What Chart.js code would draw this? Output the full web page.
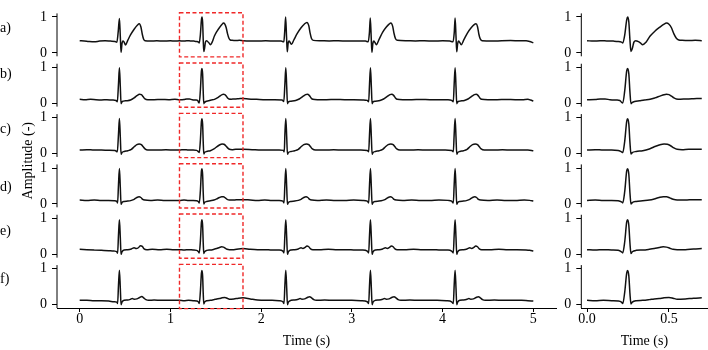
<!DOCTYPE html>
<html>
<head>
<meta charset="utf-8">
<script src="https://cdn.jsdelivr.net/npm/chart.js@4.4.1/dist/chart.umd.min.js"></script>
<style>
  html, body { margin: 0; padding: 0; background: #fff; }
  #wrap { position: relative; width: 708px; height: 350px; overflow: hidden; }
  #left { position: absolute; left: 0; top: 0; }
  #right { position: absolute; left: 555px; top: 0; }
</style>
</head>
<body>
<div id="wrap">
  <canvas id="left" width="560" height="350"></canvas>
  <canvas id="right" width="153" height="350"></canvas>
</div>
<script>
// rows top to bottom, each one is [time (s), amplitude]
const rowNames = ["a)", "b)", "c)", "d)", "e)", "f)"];
const rowOffsets = [7.0, 5.6, 4.2, 2.8, 1.4, 0];
const rowLabelLevel = [0.69, 0.8, 0.67, 0.47, 0.64, 0.71];
const leftTicks = [0, 1, 2, 3, 4, 5];
const rightTicks = [0, 0.5];
const windowStart = 1.1;
const windowEnd = 1.8;

const rowA = [
  [0.00,0.34],[0.05,0.335],[0.10,0.32],[0.16,0.31],[0.22,0.33],[0.28,0.34],[0.34,0.33],[0.39,0.32],[0.41,0.30],[0.425,0.60],[0.438,0.96],[0.448,0.45],[0.456,0.02],[0.466,0.25],[0.476,0.33],[0.49,0.30],[0.505,0.22],[0.53,0.35],[0.56,0.50],[0.60,0.66],[0.635,0.77],[0.657,0.81],[0.675,0.72],[0.69,0.52],[0.705,0.38],[0.72,0.34],[0.78,0.33],[0.85,0.34],[0.92,0.33],[1.00,0.34],[1.05,0.33],
  [1.10,0.34],[1.14,0.33],[1.18,0.34],[1.22,0.335],[1.26,0.33],[1.29,0.32],[1.31,0.30],[1.318,0.28],[1.33,0.50],[1.342,0.92],[1.348,1.00],[1.355,0.86],[1.362,0.35],[1.368,0.04],[1.376,0.12],[1.386,0.30],[1.398,0.34],[1.41,0.32],[1.425,0.28],[1.44,0.23],[1.46,0.30],[1.485,0.47],[1.515,0.61],[1.545,0.72],[1.57,0.80],[1.584,0.83],[1.60,0.80],[1.615,0.70],[1.63,0.53],[1.645,0.41],[1.66,0.36],[1.68,0.35],[1.72,0.345],[1.76,0.35],[1.80,0.34],
  [1.85,0.335],[1.95,0.33],[2.05,0.34],[2.15,0.33],[2.22,0.33],[2.25,0.31],[2.26,0.60],[2.27,1.00],[2.28,0.45],[2.288,0.03],[2.298,0.28],[2.308,0.33],[2.32,0.29],[2.335,0.24],[2.36,0.36],[2.40,0.55],[2.44,0.70],[2.475,0.80],[2.505,0.85],[2.525,0.76],[2.54,0.55],[2.555,0.40],[2.575,0.35],[2.65,0.34],[2.75,0.335],[2.85,0.34],[2.95,0.33],[3.05,0.335],[3.15,0.33],
  [3.18,0.31],[3.193,0.55],[3.203,0.97],[3.213,0.45],[3.221,0.02],[3.231,0.26],[3.241,0.33],[3.255,0.29],[3.27,0.23],[3.30,0.38],[3.34,0.58],[3.38,0.72],[3.41,0.80],[3.43,0.83],[3.45,0.74],[3.465,0.54],[3.48,0.40],[3.50,0.35],[3.60,0.34],[3.70,0.335],[3.80,0.34],[3.90,0.33],[4.00,0.34],[4.08,0.33],
  [4.115,0.31],[4.128,0.55],[4.138,0.97],[4.148,0.45],[4.156,0.03],[4.166,0.26],[4.176,0.33],[4.19,0.29],[4.205,0.23],[4.235,0.37],[4.275,0.56],[4.315,0.70],[4.345,0.78],[4.368,0.81],[4.385,0.73],[4.40,0.52],[4.415,0.39],[4.435,0.34],[4.55,0.33],[4.65,0.34],[4.75,0.345],[4.85,0.34],[4.92,0.34],[4.96,0.32],[5.00,0.28]
];

const rowB = [
  [0.00,0.11],[0.06,0.10],[0.12,0.11],[0.18,0.10],[0.24,0.095],[0.30,0.10],[0.36,0.09],[0.40,0.08],[0.415,0.04],[0.428,0.55],[0.438,0.99],[0.448,0.45],[0.456,-0.01],[0.466,0.04],[0.48,0.06],[0.52,0.07],[0.56,0.09],[0.60,0.15],[0.63,0.21],[0.66,0.25],[0.68,0.24],[0.70,0.18],[0.72,0.12],[0.75,0.10],[0.82,0.10],[0.90,0.105],[0.98,0.10],[1.05,0.11],
  [1.10,0.10],[1.15,0.105],[1.18,0.12],[1.21,0.12],[1.24,0.10],[1.28,0.09],[1.30,0.08],[1.31,0.03],[1.318,0.01],[1.33,0.35],[1.342,0.90],[1.348,0.97],[1.355,0.82],[1.362,0.30],[1.368,-0.01],[1.375,0.02],[1.39,0.05],[1.42,0.07],[1.45,0.09],[1.485,0.11],[1.515,0.15],[1.545,0.20],[1.57,0.24],[1.585,0.25],[1.60,0.24],[1.615,0.20],[1.63,0.15],[1.645,0.12],[1.67,0.115],[1.70,0.12],[1.74,0.125],[1.77,0.13],[1.80,0.13],
  [1.86,0.12],[1.95,0.11],[2.05,0.10],[2.15,0.10],[2.23,0.09],[2.25,0.05],[2.262,0.55],[2.272,0.99],[2.282,0.45],[2.29,-0.01],[2.30,0.04],[2.33,0.06],[2.38,0.08],[2.42,0.12],[2.46,0.19],[2.49,0.24],[2.51,0.25],[2.53,0.22],[2.55,0.15],[2.57,0.11],[2.62,0.10],[2.72,0.10],[2.82,0.105],[2.92,0.10],[3.02,0.10],[3.12,0.095],
  [3.17,0.08],[3.185,0.04],[3.195,0.55],[3.205,0.99],[3.215,0.45],[3.223,-0.01],[3.233,0.04],[3.26,0.06],[3.31,0.08],[3.35,0.12],[3.39,0.19],[3.42,0.24],[3.44,0.25],[3.46,0.22],[3.48,0.15],[3.50,0.11],[3.56,0.10],[3.66,0.10],[3.76,0.105],[3.86,0.10],[3.96,0.10],[4.06,0.10],
  [4.10,0.08],[4.118,0.04],[4.128,0.55],[4.138,0.99],[4.148,0.45],[4.156,-0.01],[4.166,0.04],[4.19,0.06],[4.24,0.08],[4.28,0.12],[4.32,0.19],[4.35,0.24],[4.37,0.25],[4.39,0.22],[4.41,0.15],[4.43,0.11],[4.50,0.10],[4.60,0.10],[4.70,0.105],[4.80,0.10],[4.88,0.10],[4.94,0.11],[4.97,0.09],[5.00,0.06]
];

const rowC = [
  [0.00,0.10],[0.08,0.11],[0.16,0.10],[0.24,0.10],[0.32,0.095],[0.39,0.09],[0.415,0.05],[0.428,0.55],[0.438,0.98],[0.448,0.45],[0.456,-0.02],[0.466,0.03],[0.49,0.06],[0.53,0.08],[0.57,0.12],[0.60,0.19],[0.63,0.25],[0.655,0.27],[0.68,0.25],[0.70,0.19],[0.72,0.13],[0.75,0.10],[0.85,0.10],[0.95,0.105],[1.05,0.10],
  [1.10,0.10],[1.15,0.11],[1.20,0.10],[1.25,0.10],[1.29,0.09],[1.31,0.05],[1.318,0.03],[1.33,0.35],[1.342,0.90],[1.348,0.97],[1.355,0.82],[1.362,0.30],[1.368,-0.01],[1.376,0.03],[1.40,0.06],[1.44,0.08],[1.48,0.13],[1.51,0.19],[1.54,0.24],[1.57,0.27],[1.59,0.26],[1.61,0.22],[1.63,0.16],[1.65,0.12],[1.68,0.11],[1.72,0.12],[1.76,0.12],[1.80,0.12],
  [1.90,0.11],[2.00,0.10],[2.10,0.10],[2.20,0.10],[2.245,0.09],[2.255,0.05],[2.262,0.55],[2.272,0.98],[2.282,0.45],[2.29,-0.02],[2.30,0.03],[2.33,0.06],[2.37,0.08],[2.41,0.12],[2.44,0.19],[2.47,0.25],[2.50,0.27],[2.525,0.25],[2.545,0.19],[2.565,0.13],[2.60,0.10],[2.70,0.10],[2.80,0.105],[2.90,0.10],[3.00,0.10],[3.10,0.10],
  [3.17,0.09],[3.185,0.05],[3.195,0.55],[3.205,0.98],[3.215,0.45],[3.223,-0.02],[3.233,0.03],[3.26,0.06],[3.30,0.08],[3.34,0.12],[3.37,0.19],[3.40,0.25],[3.43,0.27],[3.455,0.25],[3.475,0.19],[3.495,0.13],[3.53,0.10],[3.63,0.10],[3.73,0.105],[3.83,0.10],[3.93,0.10],[4.03,0.10],
  [4.10,0.09],[4.118,0.05],[4.128,0.55],[4.138,0.98],[4.148,0.45],[4.156,-0.02],[4.166,0.03],[4.19,0.06],[4.23,0.08],[4.27,0.12],[4.30,0.19],[4.33,0.25],[4.36,0.27],[4.385,0.25],[4.405,0.19],[4.425,0.13],[4.46,0.10],[4.56,0.10],[4.66,0.105],[4.76,0.10],[4.86,0.10],[4.94,0.10],[5.00,0.08]
];

const rowD = [
  [0.00,0.11],[0.08,0.10],[0.16,0.11],[0.24,0.10],[0.32,0.10],[0.38,0.09],[0.41,0.07],[0.418,0.03],[0.428,0.55],[0.438,0.99],[0.448,0.45],[0.456,-0.01],[0.466,0.04],[0.49,0.07],[0.53,0.08],[0.57,0.10],[0.60,0.13],[0.63,0.18],[0.655,0.20],[0.675,0.18],[0.695,0.13],[0.72,0.11],[0.78,0.10],[0.86,0.11],[0.94,0.10],[1.02,0.10],
  [1.10,0.10],[1.15,0.11],[1.20,0.10],[1.25,0.10],[1.29,0.09],[1.31,0.06],[1.318,0.03],[1.33,0.35],[1.342,0.92],[1.348,0.98],[1.355,0.82],[1.362,0.30],[1.368,0.00],[1.376,0.04],[1.40,0.07],[1.44,0.09],[1.48,0.11],[1.51,0.14],[1.54,0.18],[1.565,0.20],[1.585,0.20],[1.605,0.17],[1.625,0.13],[1.65,0.11],[1.70,0.11],[1.75,0.12],[1.80,0.12],
  [1.88,0.11],[1.96,0.10],[2.04,0.11],[2.12,0.10],[2.20,0.10],[2.24,0.08],[2.252,0.03],[2.262,0.55],[2.272,0.99],[2.282,0.45],[2.29,-0.01],[2.30,0.04],[2.33,0.07],[2.37,0.08],[2.41,0.10],[2.44,0.13],[2.47,0.18],[2.495,0.20],[2.515,0.18],[2.535,0.13],[2.56,0.11],[2.62,0.10],[2.72,0.11],[2.82,0.10],[2.92,0.10],[3.02,0.11],[3.12,0.10],
  [3.17,0.08],[3.185,0.03],[3.195,0.55],[3.205,0.99],[3.215,0.45],[3.223,-0.01],[3.233,0.04],[3.26,0.07],[3.30,0.08],[3.34,0.10],[3.37,0.13],[3.40,0.18],[3.425,0.20],[3.445,0.18],[3.465,0.13],[3.49,0.11],[3.56,0.10],[3.66,0.11],[3.76,0.10],[3.86,0.10],[3.96,0.11],[4.06,0.10],
  [4.10,0.08],[4.118,0.03],[4.128,0.55],[4.138,0.99],[4.148,0.45],[4.156,-0.01],[4.166,0.04],[4.19,0.07],[4.23,0.08],[4.27,0.10],[4.30,0.13],[4.33,0.18],[4.355,0.20],[4.375,0.18],[4.395,0.13],[4.42,0.11],[4.50,0.10],[4.60,0.11],[4.70,0.10],[4.80,0.10],[4.90,0.11],[4.96,0.10],[5.00,0.08]
];

const rowE = [
  [0.00,0.14],[0.08,0.13],[0.16,0.12],[0.24,0.11],[0.32,0.10],[0.38,0.09],[0.41,0.07],[0.418,0.03],[0.428,0.55],[0.438,0.96],[0.448,0.45],[0.456,0.00],[0.466,0.07],[0.49,0.12],[0.53,0.13],[0.57,0.15],[0.60,0.18],[0.625,0.16],[0.65,0.19],[0.67,0.24],[0.69,0.22],[0.71,0.15],[0.74,0.13],[0.80,0.14],[0.88,0.13],[0.96,0.14],[1.04,0.13],
  [1.10,0.13],[1.15,0.12],[1.20,0.13],[1.25,0.12],[1.29,0.11],[1.31,0.07],[1.318,0.04],[1.33,0.35],[1.342,0.90],[1.348,0.96],[1.355,0.80],[1.362,0.30],[1.368,0.02],[1.376,0.07],[1.40,0.11],[1.44,0.12],[1.48,0.14],[1.51,0.16],[1.54,0.19],[1.565,0.21],[1.585,0.20],[1.605,0.17],[1.625,0.14],[1.65,0.13],[1.70,0.13],[1.75,0.15],[1.80,0.16],
  [1.88,0.14],[1.96,0.13],[2.04,0.13],[2.12,0.12],[2.20,0.12],[2.24,0.09],[2.252,0.04],[2.262,0.55],[2.272,0.96],[2.282,0.45],[2.29,0.00],[2.30,0.07],[2.33,0.12],[2.37,0.13],[2.41,0.15],[2.44,0.18],[2.46,0.16],[2.485,0.19],[2.505,0.23],[2.525,0.21],[2.545,0.15],[2.57,0.13],[2.64,0.13],[2.74,0.14],[2.84,0.13],[2.94,0.13],[3.04,0.12],[3.12,0.12],
  [3.17,0.09],[3.185,0.04],[3.195,0.55],[3.205,0.96],[3.215,0.45],[3.223,0.00],[3.233,0.07],[3.26,0.12],[3.30,0.13],[3.34,0.15],[3.37,0.18],[3.39,0.16],[3.415,0.19],[3.435,0.23],[3.455,0.21],[3.475,0.15],[3.50,0.13],[3.58,0.13],[3.68,0.14],[3.78,0.13],[3.88,0.13],[3.98,0.12],[4.06,0.12],
  [4.10,0.09],[4.118,0.04],[4.128,0.55],[4.138,0.96],[4.148,0.45],[4.156,0.00],[4.166,0.07],[4.19,0.12],[4.23,0.13],[4.27,0.15],[4.30,0.18],[4.32,0.16],[4.345,0.19],[4.365,0.23],[4.385,0.21],[4.405,0.15],[4.43,0.13],[4.52,0.13],[4.62,0.14],[4.72,0.13],[4.82,0.13],[4.92,0.12],[4.96,0.11],[5.00,0.09]
];

const rowF = [
  [0.00,0.12],[0.08,0.12],[0.16,0.11],[0.24,0.11],[0.32,0.10],[0.38,0.08],[0.41,0.07],[0.418,0.03],[0.428,0.55],[0.438,0.96],[0.448,0.45],[0.456,0.00],[0.466,0.07],[0.49,0.12],[0.53,0.13],[0.56,0.15],[0.58,0.17],[0.60,0.15],[0.63,0.16],[0.66,0.20],[0.685,0.23],[0.705,0.19],[0.73,0.14],[0.76,0.12],[0.82,0.13],[0.90,0.12],[0.98,0.12],[1.04,0.12],
  [1.10,0.12],[1.15,0.11],[1.20,0.12],[1.25,0.11],[1.29,0.10],[1.31,0.07],[1.318,0.03],[1.33,0.35],[1.342,0.88],[1.348,0.95],[1.355,0.80],[1.362,0.30],[1.368,0.02],[1.376,0.07],[1.40,0.11],[1.44,0.12],[1.48,0.14],[1.51,0.16],[1.54,0.17],[1.57,0.19],[1.60,0.20],[1.625,0.18],[1.65,0.15],[1.70,0.16],[1.75,0.18],[1.80,0.19],
  [1.88,0.16],[1.96,0.13],[2.04,0.12],[2.12,0.12],[2.20,0.11],[2.24,0.08],[2.252,0.03],[2.262,0.55],[2.272,0.96],[2.282,0.45],[2.29,0.00],[2.30,0.07],[2.33,0.12],[2.37,0.13],[2.41,0.15],[2.43,0.17],[2.45,0.15],[2.48,0.16],[2.51,0.20],[2.535,0.22],[2.555,0.19],[2.58,0.14],[2.61,0.12],[2.70,0.13],[2.80,0.12],[2.90,0.12],[3.00,0.12],[3.10,0.11],
  [3.17,0.08],[3.185,0.03],[3.195,0.55],[3.205,0.96],[3.215,0.45],[3.223,0.00],[3.233,0.07],[3.26,0.12],[3.30,0.13],[3.34,0.15],[3.36,0.17],[3.38,0.15],[3.41,0.16],[3.44,0.20],[3.465,0.22],[3.485,0.19],[3.51,0.14],[3.54,0.12],[3.64,0.13],[3.74,0.12],[3.84,0.12],[3.94,0.12],[4.04,0.11],
  [4.10,0.08],[4.118,0.03],[4.128,0.55],[4.138,0.96],[4.148,0.45],[4.156,0.00],[4.166,0.07],[4.19,0.12],[4.23,0.13],[4.27,0.15],[4.29,0.17],[4.31,0.15],[4.34,0.16],[4.37,0.20],[4.395,0.22],[4.415,0.19],[4.44,0.14],[4.47,0.12],[4.57,0.13],[4.67,0.12],[4.77,0.12],[4.87,0.12],[4.94,0.11],[5.00,0.10]
];

const signals = [rowA, rowB, rowC, rowD, rowE, rowF];

Chart.defaults.font.family = "'Liberation Serif', 'Times New Roman', serif";
Chart.defaults.font.size = 14;
Chart.defaults.color = "#000";

const yMin = -0.093;
const yMax = 8.1;
const yTickValues = rowOffsets.slice().sort((a, b) => a - b).flatMap(o => [o, o + 1]);

function makeY(width) {
  return {
    type: "linear",
    min: yMin,
    max: yMax,
    afterFit: s => { s.width = width; },
    afterBuildTicks: s => { s.ticks = yTickValues.map(v => ({ value: v })); },
    ticks: { autoSkip: false, padding: 5, callback: (v, i) => (i % 2 ? "1" : "0") },
    grid: { drawOnChartArea: false, color: "#000", tickLength: 5 },
    border: { display: false },
  };
}

function makeX(min, max, ticks, fmt) {
  return {
    type: "linear",
    min: min,
    max: max,
    afterFit: s => { s.height = 42; },
    afterBuildTicks: s => { s.ticks = ticks.map(v => ({ value: v })); },
    ticks: { autoSkip: false, padding: -1, callback: fmt, maxRotation: 0 },
    grid: { drawOnChartArea: false, color: "#000", tickLength: 4 },
    border: { display: true, color: "#000", width: 1 },
    title: { display: true, text: "Time (s)", padding: 0 },
  };
}

function lineSet(points) {
  return {
    data: points,
    borderColor: "#111",
    borderWidth: 1.5,
    pointRadius: 0,
    cubicInterpolationMode: "monotone",
    fill: false,
  };
}

// vertical spine for each row, left panel and right panel
const rowSpines = {
  id: "rowSpines",
  afterDraw(chart) {
    const { ctx, scales } = chart;
    const x = scales.x.left;
    ctx.save();
    ctx.strokeStyle = "#000";
    ctx.lineWidth = 1;
    rowOffsets.forEach(o => {
      ctx.beginPath();
      ctx.moveTo(x, scales.y.getPixelForValue(o + 1.1));
      ctx.lineTo(x, scales.y.getPixelForValue(o + yMin));
      ctx.stroke();
    });
    ctx.restore();
  },
};

const leftExtras = {
  id: "leftExtras",
  afterDraw(chart) {
    const { ctx, scales } = chart;
    ctx.save();
    // red dashed boxes round the zoom window
    ctx.strokeStyle = "rgb(240,40,40)";
    ctx.lineWidth = 1.4;
    ctx.setLineDash([4, 2.5]);
    const x0 = scales.x.getPixelForValue(windowStart);
    const x1 = scales.x.getPixelForValue(windowEnd);
    rowOffsets.forEach(o => {
      const y0 = scales.y.getPixelForValue(o + 1.12);
      const y1 = scales.y.getPixelForValue(o - 0.11);
      ctx.strokeRect(x0, y0, x1 - x0, y1 - y0);
    });
    ctx.setLineDash([]);
    // row letters
    ctx.fillStyle = "#000";
    ctx.font = "14px 'Liberation Serif', serif";
    ctx.textAlign = "left";
    ctx.textBaseline = "middle";
    rowNames.forEach((n, i) => {
      ctx.fillText(n, 0, scales.y.getPixelForValue(rowOffsets[i] + rowLabelLevel[i]));
    });
    // shared y title
    ctx.translate(28, (scales.y.top + scales.y.bottom) / 2);
    ctx.rotate(-Math.PI / 2);
    ctx.textAlign = "center";
    ctx.fillText("Amplitude (-)", 0, 0);
    ctx.restore();
  },
};

const baseOptions = {
  responsive: false,
  animation: false,
  events: [],
  plugins: { legend: { display: false }, tooltip: { enabled: false } },
};

new Chart(document.getElementById("left"), {
  type: "line",
  data: {
    datasets: signals.map((s, i) => lineSet(s.map(p => ({ x: p[0], y: p[1] + rowOffsets[i] })))),
  },
  options: {
    ...baseOptions,
    layout: { autoPadding: false, padding: { top: 0.75, right: 4, bottom: 0, left: 0 } },
    scales: {
      x: makeX(-0.25, 5.25, leftTicks, v => String(v)),
      y: makeY(57),
    },
  },
  plugins: [rowSpines, leftExtras],
});

new Chart(document.getElementById("right"), {
  type: "line",
  data: {
    datasets: signals.map((s, i) =>
      lineSet(
        s.filter(p => p[0] >= windowStart - 1e-9 && p[0] <= windowEnd + 1e-9)
         .map(p => ({ x: p[0] - windowStart, y: p[1] + rowOffsets[i] }))
      )
    ),
  },
  options: {
    ...baseOptions,
    layout: { autoPadding: false, padding: { top: 0.75, right: 0.5, bottom: 0, left: 0 } },
    scales: {
      x: makeX(-0.035, 0.735, rightTicks, v => v.toFixed(1)),
      y: makeY(26.3),
    },
  },
  plugins: [rowSpines],
});
</script>
</body>
</html>
